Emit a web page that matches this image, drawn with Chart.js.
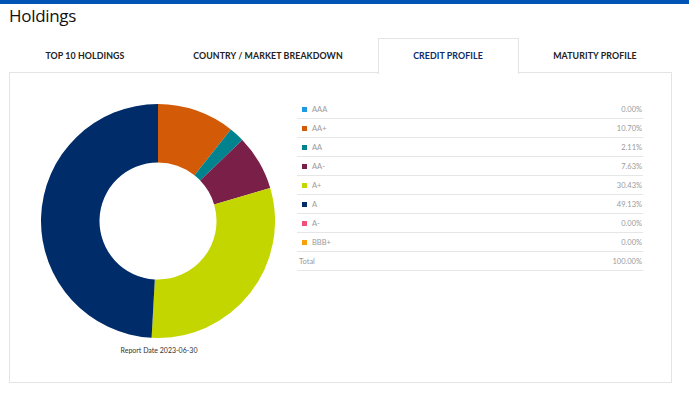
<!DOCTYPE html>
<html><head><meta charset="utf-8">
<script src="https://cdn.jsdelivr.net/npm/chart.js@4/dist/chart.umd.min.js"></script>
<style>
html,body{margin:0;padding:0;width:689px;height:398px;overflow:hidden;background:#fff;font-family:Lato,"Open Sans",sans-serif;}
#bar{position:absolute;left:0;top:0;width:689px;height:4px;background:#0054b4;}
#title{position:absolute;left:9px;top:4px;font-size:17px;color:#111;font-family:"Open Sans",sans-serif;letter-spacing:-0.3px;}
.tab{position:absolute;top:38px;height:34px;line-height:36px;font-size:8.8px;font-weight:bold;color:#222;text-align:center;letter-spacing:0.1px;}
#panel{position:absolute;left:9px;top:72px;width:661px;height:309px;border:1px solid #e4e4e4;}
#activeTab{position:absolute;left:378px;top:38px;width:139px;height:35px;border:1px solid #e4e4e4;border-bottom:none;background:#fff;z-index:2;}
#chartBox{position:absolute;left:41px;top:104px;width:234px;height:234px;}
#report{position:absolute;left:59px;top:346px;width:200px;text-align:center;font-size:7px;color:#333;}
#tbl{position:absolute;left:297px;top:100px;width:346px;}
.row{position:relative;height:18px;border-bottom:1px solid #e6e6e6;font-size:7.5px;color:#9a9a9a;line-height:19px;}
.sw{position:absolute;left:5px;top:7px;width:5px;height:5px;}
.lbl{position:absolute;left:15px;}
.val{position:absolute;right:1px;}
</style></head>
<body>
<div id="bar"></div>
<div id="title">Holdings</div>
<div id="panel"></div>
<div id="activeTab"></div>
<div class="tab" style="left:10px;width:150px;">TOP 10 HOLDINGS</div>
<div class="tab" style="left:190px;width:156px;">COUNTRY / MARKET BREAKDOWN</div>
<div class="tab" style="left:378px;width:140px;color:#0b2a66;z-index:3;">CREDIT PROFILE</div>
<div class="tab" style="left:525px;width:140px;">MATURITY PROFILE</div>
<div id="chartBox"><canvas id="c" width="234" height="234"></canvas></div>
<div id="report">Report Date 2023-06-30</div>
<div id="tbl"></div>
<script>
const categories = ["AAA","AA+","AA","AA-","A+","A","A-","BBB+"];
const weights = [0.00,10.70,2.11,7.63,30.43,49.13,0.00,0.00];
const colors = ["#1f9ae0","#d35a06","#00838f","#7a2048","#c4d600","#002d69","#f2507a","#f7a00a"];
const totalLabel = "Total";
const totalValue = "100.00%";
const reportDate = "Report Date 2023-06-30";

const tbl = document.getElementById('tbl');
categories.forEach((c,i)=>{
  const r=document.createElement('div');r.className='row';
  r.innerHTML='<span class="sw" style="background:'+colors[i]+'"></span><span class="lbl">'+c+'</span><span class="val">'+weights[i].toFixed(2)+'%</span>';
  tbl.appendChild(r);
});
const t=document.createElement('div');t.className='row';
t.innerHTML='<span class="lbl" style="left:2px">'+totalLabel+'</span><span class="val">'+totalValue+'</span>';
tbl.appendChild(t);
document.getElementById('report').textContent=reportDate;

new Chart(document.getElementById('c'),{
  type:'doughnut',
  data:{labels:categories,datasets:[{data:weights,backgroundColor:colors,borderWidth:0,hoverOffset:0}]},
  options:{responsive:false,animation:false,cutout:'50%',
    layout:{padding:0},
    plugins:{legend:{display:false},tooltip:{enabled:false}}}
});
</script>
</body></html>
